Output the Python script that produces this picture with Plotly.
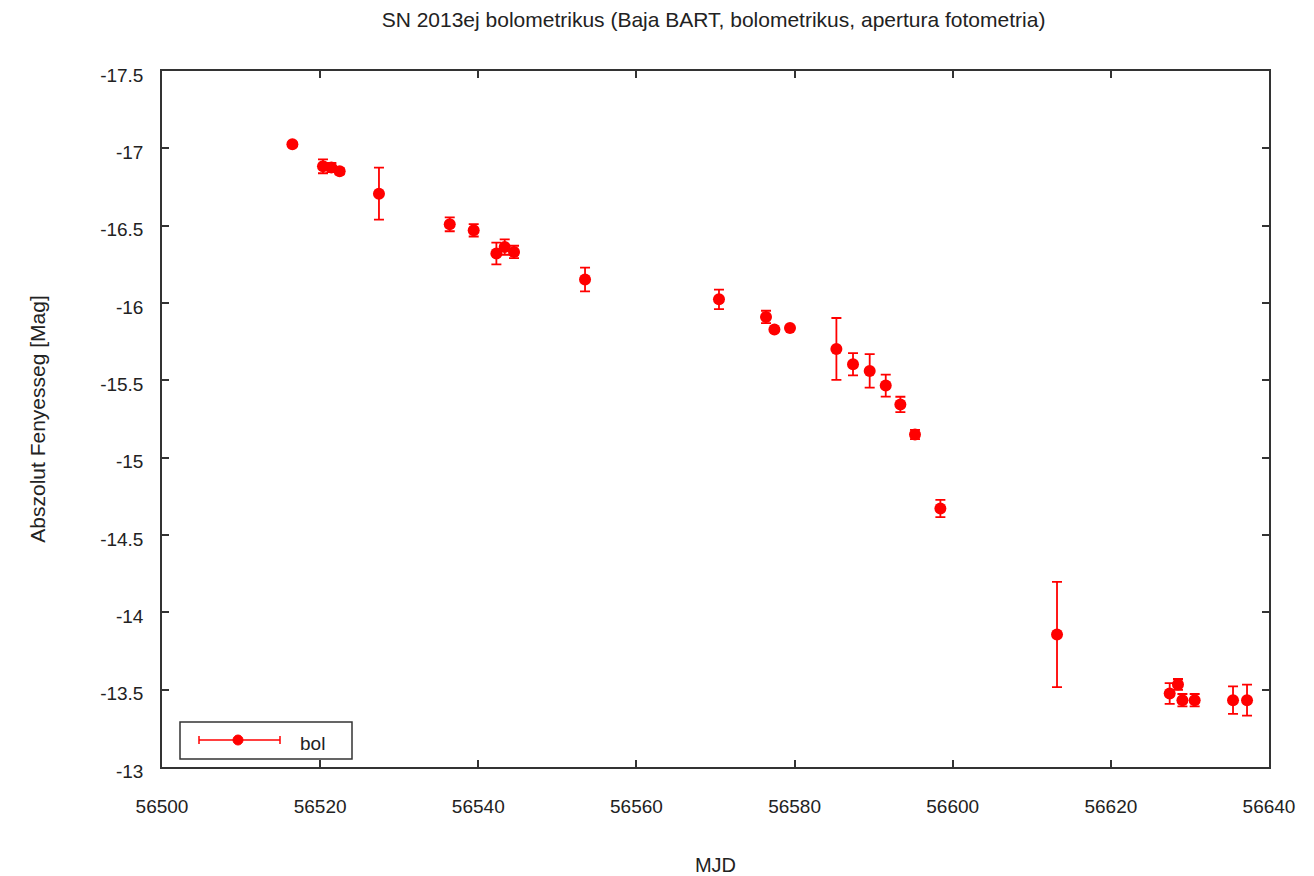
import plotly.graph_objects as go

# ---- data ----
mjd = [56516.49, 56520.36, 56521.42, 56522.47, 56527.44, 56536.39, 56539.42,
       56542.29, 56543.34, 56544.52, 56553.50, 56570.44, 56576.39, 56577.45,
       56579.42, 56585.29, 56587.39, 56589.50, 56591.53, 56593.38, 56595.23,
       56598.44, 56613.19, 56627.44, 56628.49, 56629.05, 56630.60, 56635.45,
       56637.22]
mag = [-17.026, -16.884, -16.876, -16.852, -16.707, -16.509, -16.470,
       -16.320, -16.362, -16.330, -16.152, -16.024, -15.910, -15.828,
       -15.839, -15.703, -15.604, -15.561, -15.466, -15.344, -15.150,
       -14.671, -13.857, -13.475, -13.534, -13.432, -13.432, -13.432,
       -13.432]
mag_err = [0.012, 0.045, 0.03, 0.02, 0.168, 0.045, 0.04,
           0.07, 0.05, 0.04, 0.077, 0.063, 0.04, 0.01,
           0.01, 0.20, 0.072, 0.108, 0.071, 0.05, 0.03,
           0.056, 0.34, 0.067, 0.035, 0.04, 0.04, 0.089,
           0.10]

x_ticks = [56500, 56520, 56540, 56560, 56580, 56600, 56620, 56640]
x_ticklabels = ["56500", "56520", "56540", "56560", "56580", "56600", "56620", "56640"]
y_ticks = [-17.5, -17, -16.5, -16, -15.5, -15, -14.5, -14, -13.5, -13]
y_ticklabels = ["-17.5", "-17", "-16.5", "-16", "-15.5", "-15", "-14.5", "-14", "-13.5", "-13"]

series_name = "bol"
title_text = "SN 2013ej bolometrikus (Baja BART, bolometrikus, apertura fotometria)"
x_title = "MJD"
y_title = "Abszolut Fenyesseg [Mag]"

RED = "#ff0000"
AX = "#333333"
TXT = "#222222"
FONT = "Liberation Sans, Arial, sans-serif"

fig = go.Figure()
fig.add_trace(go.Scatter(
    x=mjd, y=mag, mode="markers", name=series_name, showlegend=False,
    marker=dict(color=RED, size=12, symbol="circle"),
    error_y=dict(type="data", array=mag_err, visible=True, color=RED,
                 thickness=1.8, width=5),
))

# page has an 8px body margin, so the figure is 8px smaller than the window
W, H = 1306, 868
L, R, T, B = 154, 45, 63, 109

fig.update_layout(
    width=W, height=H,
    margin=dict(l=L, r=R, t=T, b=B, pad=0, autoexpand=False),
    paper_bgcolor="white", plot_bgcolor="white",
    font=dict(family=FONT, size=19, color=TXT),
    title=dict(text=title_text, x=(L + (W - R)) / 2 / W - 2 / W, xanchor="center",
               y=1 - 12 / H, yanchor="middle", font=dict(size=21)),
    xaxis=dict(range=[56500, 56640], tickvals=x_ticks, ticktext=x_ticklabels,
               ticks="inside", ticklen=7, tickwidth=1.5, tickcolor=AX,
               showline=True, linecolor=AX, linewidth=1.5, mirror="ticks",
               showgrid=False, zeroline=False, ticklabelstandoff=21,
               automargin=False,
               title=dict(text=x_title, standoff=42, font=dict(size=20))),
    yaxis=dict(range=[-13, -17.5], tickvals=y_ticks, ticktext=y_ticklabels,
               ticks="inside", ticklen=7, tickwidth=1.5, tickcolor=AX,
               showline=True, linecolor=AX, linewidth=1.5, mirror="ticks",
               showgrid=False, zeroline=False, ticklabelstandoff=13,
               ticklabelshift=-4, automargin=False,
               title=dict(text=y_title, standoff=49, font=dict(size=21))),
)

# ---- legend box drawn in pixel offsets from the plot's lower-left corner ----
def pshape(kind, x0, y0, x1, y1, **kw):
    fig.add_shape(type=kind, xref="paper", yref="paper",
                  xsizemode="pixel", ysizemode="pixel", xanchor=0, yanchor=0,
                  x0=x0, x1=x1, y0=y0, y1=y1, **kw)

pshape("rect", 18, 8, 190, 45, line=dict(color=AX, width=1.5), fillcolor="white")
pshape("line", 37, 27, 118, 27, line=dict(color=RED, width=1.5))
pshape("line", 37, 23, 37, 31, line=dict(color=RED, width=1.5))
pshape("line", 118, 23, 118, 31, line=dict(color=RED, width=1.5))
pshape("circle", 71, 22, 81, 32, line=dict(color=RED, width=1), fillcolor=RED)
fig.add_annotation(text=series_name, xref="paper", yref="paper", x=0, y=0,
                   xanchor="left", yanchor="middle", xshift=136, yshift=24,
                   showarrow=False, font=dict(size=19, color=TXT))

fig.write_html("out.html")
